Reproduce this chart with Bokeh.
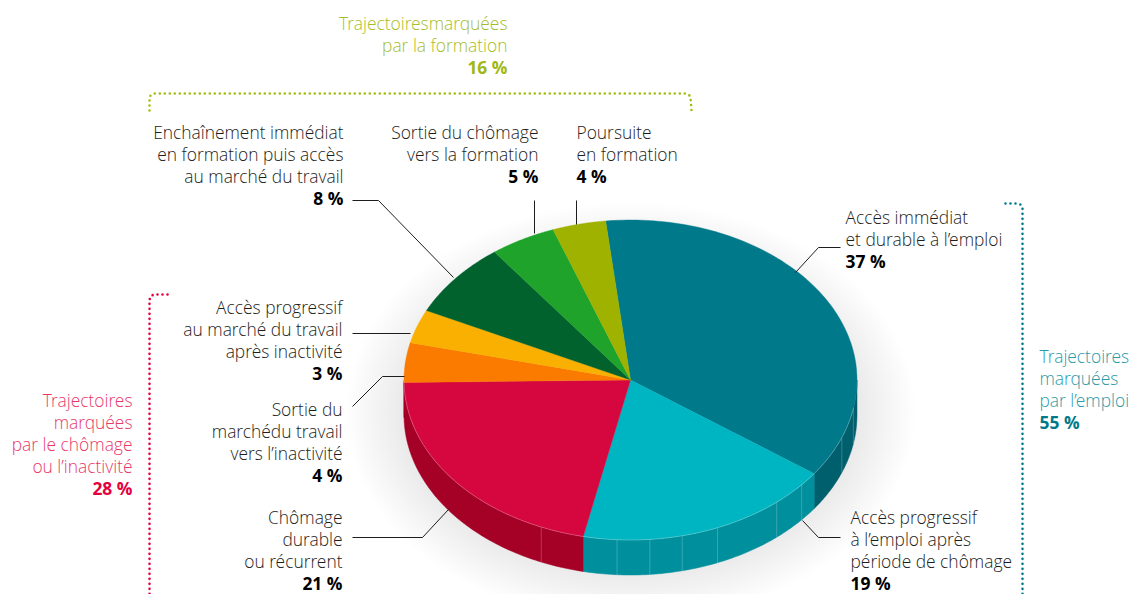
import numpy as np
from bokeh.plotting import figure
from bokeh.core.properties import value
from bokeh.embed import file_html
from bokeh.resources import INLINE

# ---- data ----
categories = ["Accès immédiat et durable à l’emploi", "Accès progressif à l’emploi après période de chômage",
              "Chômage durable ou récurrent", "Sortie du marché du travail vers l’inactivité",
              "Accès progressif au marché du travail après inactivité",
              "Enchaînement immédiat en formation puis accès au marché du travail",
              "Sortie du chômage vers la formation", "Poursuite en formation"]
shares = [36.7, 18.4, 21.4, 4.0, 3.4, 7.6, 4.7, 3.8]   # drawn sizes of the slices
face_colors = ["#007a8a", "#00b5c2", "#d6063f", "#fb7a00", "#f9b000", "#02622e", "#1fa32a", "#9fb200"]
wall_colors = ["#005f6c", "#008f9c", "#a50026", "#a50026", "#c08800", "#014a22", "#177c20", "#7a8800"]

FONT = "Open Sans Light"
BOLD = "Open Sans"
DARK = "#1d1d1b"
RED_T, RED_B = "#e8386a", "#e4003f"
LIME_T, LIME_B = "#a6bd2a", "#a0b814"
TEAL_T, TEAL_B = "#2a9aa8", "#007a8a"

# (lines, align, x, first-line y, regular colour, bold colour)
blocks = [
    (["Trajectoiresmarquées", "par la formation", "16 %"], "right", 507, 24, LIME_T, LIME_B),
    (["Enchaînement immédiat", "en formation puis accès", "au marché du travail", "8 %"], "right", 343, 133, DARK, "#000000"),
    (["Sortie du chômage", "vers la formation", "5 %"], "right", 538, 133, DARK, "#000000"),
    (["Poursuite", "en formation", "4 %"], "left", 576, 133, DARK, "#000000"),
    (["Accès immédiat", "et durable à l’emploi", "37 %"], "left", 845, 218.5, DARK, "#000000"),
    (["Accès progressif", "à l’emploi après", "période de chômage", "19 %"], "left", 850, 518, DARK, "#000000"),
    (["Accès progressif", "au marché du travail", "après inactivité", "3 %"], "right", 342, 308, DARK, "#000000"),
    (["Sortie du", "marchédu travail", "vers l’inactivité", "4 %"], "right", 342, 410, DARK, "#000000"),
    (["Chômage", "durable", "ou récurrent", "21 %"], "right", 342, 518, DARK, "#000000"),
    (["Trajectoires", "marquées", "par le chômage", "ou l’inactivité", "28 %"], "right", 132, 401, RED_T, RED_B),
    (["Trajectoires", "marquées", "par l’emploi", "55 %"], "left", 1039, 357, TEAL_T, TEAL_B),
]

leaders = [
    ([840, 818, 795], [247, 247, 272]),
    ([840, 818, 802], [537, 537, 520]),
    ([352, 422, 448], [537, 537, 509]),
    ([352, 382, 404], [406, 376, 376]),
    ([352, 410], [333, 333]),
    ([352, 378, 453], [200, 200, 277]),
    ([534, 534], [200, 233]),
    ([576, 576], [200, 224]),
]

brackets = [
    ([149, 149, 150, 154, 685, 689, 690, 691], [110, 97, 95, 93, 93, 95, 97, 110], "#a3bd10"),
    ([167, 154, 151, 149, 149], [294, 294, 295, 299, 594], "#e4003f"),
    ([1005, 1017, 1020, 1022, 1022], [203, 203, 204, 208, 594], "#007a8a"),
]

facet_angles = [100.3, 111.1, 130.9, 139.8, 157.4, 166.8, 175.1, 183.4, 203.2]

# ---- geometry of the tilted pie ----
CX, CY, RX, RY, DEPTH = 630.0, 379.5, 226.5, 160.0, 35.0
START = -6.3
TEXT_DY = -2

def rim(t):
    t = np.radians(t)
    return CX + RX * np.sin(t), CY - RY * np.cos(t)

p = figure(width=1133, height=594, x_range=(0, 1133), y_range=(594, 0),
           output_backend="svg", toolbar_location=None, min_border=0)
p.axis.visible = False
p.grid.visible = False
p.outline_line_color = None
p.background_fill_color = "#ffffff"
p.border_fill_color = "#ffffff"

# soft shadow beneath the pie
for g in np.linspace(58, 0, 22):
    p.ellipse(x=CX, y=CY + 32, width=2 * (RX + g), height=2 * (RY + g * 0.85),
              fill_color="#4d5560", fill_alpha=0.008, line_color=None)

cum = START + 360 * np.cumsum([0] + shares) / sum(shares)

# walls
for i in range(len(shares)):
    a, b = cum[i], cum[i + 1]
    lo, hi = max(a, 90), min(b, 270)
    if lo < hi:
        t = np.linspace(lo, hi, 80)
        x, y = rim(t)
        p.patch(np.r_[x, x[::-1]], np.r_[y, y[::-1] + DEPTH], fill_color=wall_colors[i], line_color=wall_colors[i], line_width=0.5)
# facet lines on the wall
for a in facet_angles:
    x, y = rim(a)
    p.line([x, x], [y, y + DEPTH], line_color="#ffffff", line_alpha=0.22, line_width=1)
# faces
for i in range(len(shares)):
    t = np.linspace(cum[i], cum[i + 1], 100)
    x, y = rim(t)
    p.patch(np.r_[CX, x], np.r_[CY, y], fill_color=face_colors[i], line_color=face_colors[i], line_width=0.4)
# light rim
t = np.linspace(100, 270, 200)
x, y = rim(t)
p.line(x, y, line_color="#ffffff", line_alpha=0.35, line_width=0.7)

# leaders
for xs, ys in leaders:
    p.line(xs, ys, line_color="#1d1d1b", line_width=1)
# dotted brackets
for xs, ys, c in brackets:
    p.line(xs, ys, line_color=c, line_width=2.6, line_dash="0 5", line_cap="round", line_join="round")

# texts
SIZE, STEP = "17.4px", 22.1
for lines, align, tx, ty, col, bcol in blocks:
    for k, s in enumerate(lines):
        bold = k == len(lines) - 1
        p.text(x=[tx], y=[ty + TEXT_DY + k * STEP], text=[s], text_align=align, text_baseline="middle",
               text_font=value(BOLD if bold else FONT), text_font_style="bold" if bold else "normal",
               text_font_size=SIZE, text_color=bcol if bold else col)

open("out.html", "w").write(file_html(p, INLINE))
